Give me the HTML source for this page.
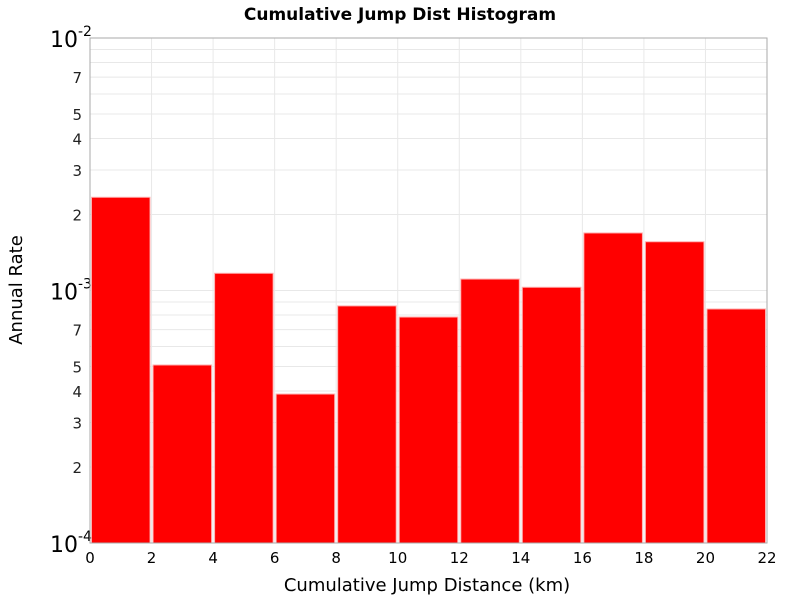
<!DOCTYPE html>
<html><head><meta charset="utf-8"><style>
body{margin:0;background:#fff;}
svg text{font-family:"DejaVu Sans","Liberation Sans",sans-serif;}
</style></head><body>
<svg id="chart" width="800" height="600" xmlns="http://www.w3.org/2000/svg">
<text x="400" y="20" text-anchor="middle" font-size="17" font-weight="bold">Cumulative Jump Dist Histogram</text>
<g id="grid"></g><g id="bars"></g><g id="axes"></g>
<text x="427" y="591" text-anchor="middle" font-size="18">Cumulative Jump Distance (km)</text>
<text transform="translate(22,290) rotate(-90)" text-anchor="middle" font-size="18">Annual Rate</text>
</svg>
<script>
const binStarts=[0,2,4,6,8,10,12,14,16,18,20];
const rates=[0.00234,0.000507,0.00117,0.000389,0.000869,0.000785,0.00111,0.00103,0.00169,0.00156,0.000845];
const xTicks=[0,2,4,6,8,10,12,14,16,18,20,22];
const minorLabels=[2,3,4,5,7];
const NS="http://www.w3.org/2000/svg";
const L=90,R=767,T=38,B=543;
const xs=v=>L+(v/22)*(R-L);
const ys=v=>T+(-2-Math.log10(v))*(B-T)/2;
function mk(tag,attrs,parent,text){const e=document.createElementNS(NS,tag);for(const k in attrs)e.setAttribute(k,attrs[k]);if(text!==undefined)e.textContent=text;parent.appendChild(e);return e;}
const grid=document.getElementById('grid'),bars=document.getElementById('bars'),axes=document.getElementById('axes');
for(const t of xTicks){
  const g=mk('line',{x1:xs(t),x2:xs(t),y1:T,y2:B,stroke:'#e8e8e8'},grid);
  
  
  const tx=mk('text',{x:xs(t),y:B+20,'text-anchor':'middle','font-size':15},axes,String(t));
  
  
}
for(const d of [-4,-3]){
  for(let m=1;m<=9;m++){
    const v=m*Math.pow(10,d);const y=ys(v);
    const g=mk('line',{x1:L,x2:R,y1:y,y2:y,stroke:'#e8e8e8'},grid);
    
    
    if(minorLabels.includes(m)){
      const tx=mk('text',{x:82,y:y+6,'text-anchor':'end','font-size':15,fill:'#222'},axes,String(m));
      
      
    }
  }
}
for(const d of [-4,-3,-2]){
  const y=ys(Math.pow(10,d));
  const tx=mk('text',{x:50,y:y+9,'font-size':22},axes);
  
  
  mk('tspan',{},tx,'10');
  mk('tspan',{dy:-11,'font-size':14},tx,String(d));
}
binStarts.forEach((s,i)=>{
  const x0=xs(s)+1.5,x1=xs(s+2)-1.5,y=ys(rates[i]);
  const r=mk('rect',{x:x0,y:y,width:x1-x0,height:B-y,fill:'#ff0000',stroke:'#ffb0b0','stroke-width':1},bars);
  
  
});
const fr=mk('rect',{x:L,y:T,width:R-L,height:B-T,fill:'none',stroke:'#aaa'},axes);


</script>
</body></html>
